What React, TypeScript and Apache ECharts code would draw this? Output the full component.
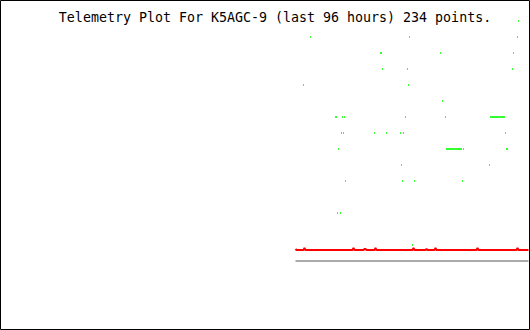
import React, { useEffect, useRef } from "react";
import * as echarts from "echarts";

const TITLE = "Telemetry Plot For K5AGC-9 (last 96 hours) 234 points.";
const POINT_COUNT = 234;

// green channel: point index and level (rows 16px apart)
const greenIndex = [
  8, 15, 40, 41, 42, 43, 45, 46, 47, 48, 49, 50, 79, 85, 86, 87, 91,
  105, 106, 107, 108, 110, 112, 113, 114, 117, 119, 145, 147, 150,
  151, 152, 153, 154, 155, 156, 157, 158, 159, 160, 161, 162, 163, 164, 165, 166,
  167, 168, 194,
  195, 196, 197, 198, 199, 200, 201, 202, 203, 204, 205, 206, 207, 208, 209,
  210, 211, 212, 217, 218, 222, 223,
];
const greenLevel = [
  10, 13, 8, 8, 2, 6, 2, 7, 8, 7, 8, 4, 7, 12, 12, 11, 7,
  7, 5, 4, 7, 8, 11, 10, 13, 0, 4, 12, 9, 8,
  6, 6, 6, 6, 6, 6, 6, 6, 6, 6, 6, 6, 6, 6, 6, 6,
  4, 6, 5,
  8, 8, 8, 8, 8, 8, 8, 8, 8, 8, 8, 8, 8, 8, 8,
  7, 6, 6, 11, 12, 13, 14,
];

// red channel vertices
const redIndex = [
  0, 1, 8, 9, 10, 57, 58, 59, 68, 69, 70, 71, 79, 80, 81,
  117, 118, 119, 130, 131, 132, 139, 140, 141, 181, 182, 183,
  221, 222, 223, 233,
];
const redValue = [
  -0.25, -0.3125, -0.3125, -0.1875, -0.3125, -0.3125, -0.1875, -0.3125,
  -0.3125, -0.25, -0.25, -0.3125, -0.3125, -0.1875, -0.3125,
  -0.3125, -0.1875, -0.3125, -0.3125, -0.25, -0.3125, -0.3125, -0.1875, -0.3125,
  -0.3125, -0.1875, -0.3125, -0.3125, -0.1875, -0.3125, -0.3125,
];

// gray channel vertices
const grayIndex = [0, 233];
const grayValue = [-1, -1];

export default function App() {
  const ref = useRef<HTMLDivElement>(null);
  useEffect(() => {
    const chart = echarts.init(ref.current!, null, {
      renderer: "svg",
      width: 530,
      height: 330,
    });
    chart.setOption({
      animation: false,
      backgroundColor: "#ffffff",
      grid: { left: 295.5, width: 234, top: 5, height: 272 },
      xAxis: { type: "value", min: 0, max: POINT_COUNT, show: false },
      yAxis: { type: "value", min: -2, max: 15, show: false },
      series: [
        {
          type: "line",
          silent: true,
          showSymbol: false,
          data: grayIndex.map((x, i) => [x, grayValue[i]]),
          lineStyle: { color: "#aaaaaa", width: 2 },
          itemStyle: { color: "#aaaaaa" },
        },
        {
          type: "line",
          silent: true,
          showSymbol: false,
          data: redIndex.map((x, i) => [x, redValue[i]]),
          lineStyle: { color: "#ff0000", width: 2 },
          itemStyle: { color: "#ff0000" },
        },
        {
          type: "scatter",
          silent: true,
          symbol: "rect",
          symbolSize: [1, 2],
          data: greenIndex.map((x, i) => [x, greenLevel[i]]),
          itemStyle: { color: "#00ff00" },
        },
      ],
      graphic: [
        {
          type: "rect",
          silent: true,
          shape: { x: 0.5, y: 0.5, width: 529, height: 329 },
          style: { fill: "none", stroke: "#000000", lineWidth: 1 },
        },
        {
          type: "text",
          silent: true,
          x: 275,
          y: 17.5,
          style: {
            text: TITLE,
            fontFamily: "DejaVu Sans Mono",
            fontSize: 13.3,
            fill: "#000000",
            align: "center",
            verticalAlign: "middle",
          },
        },
      ],
    });
    return () => chart.dispose();
  }, []);
  return (
    <div
      ref={ref}
      style={{ position: "fixed", left: 0, top: 0, width: 530, height: 330 }}
    />
  );
}
